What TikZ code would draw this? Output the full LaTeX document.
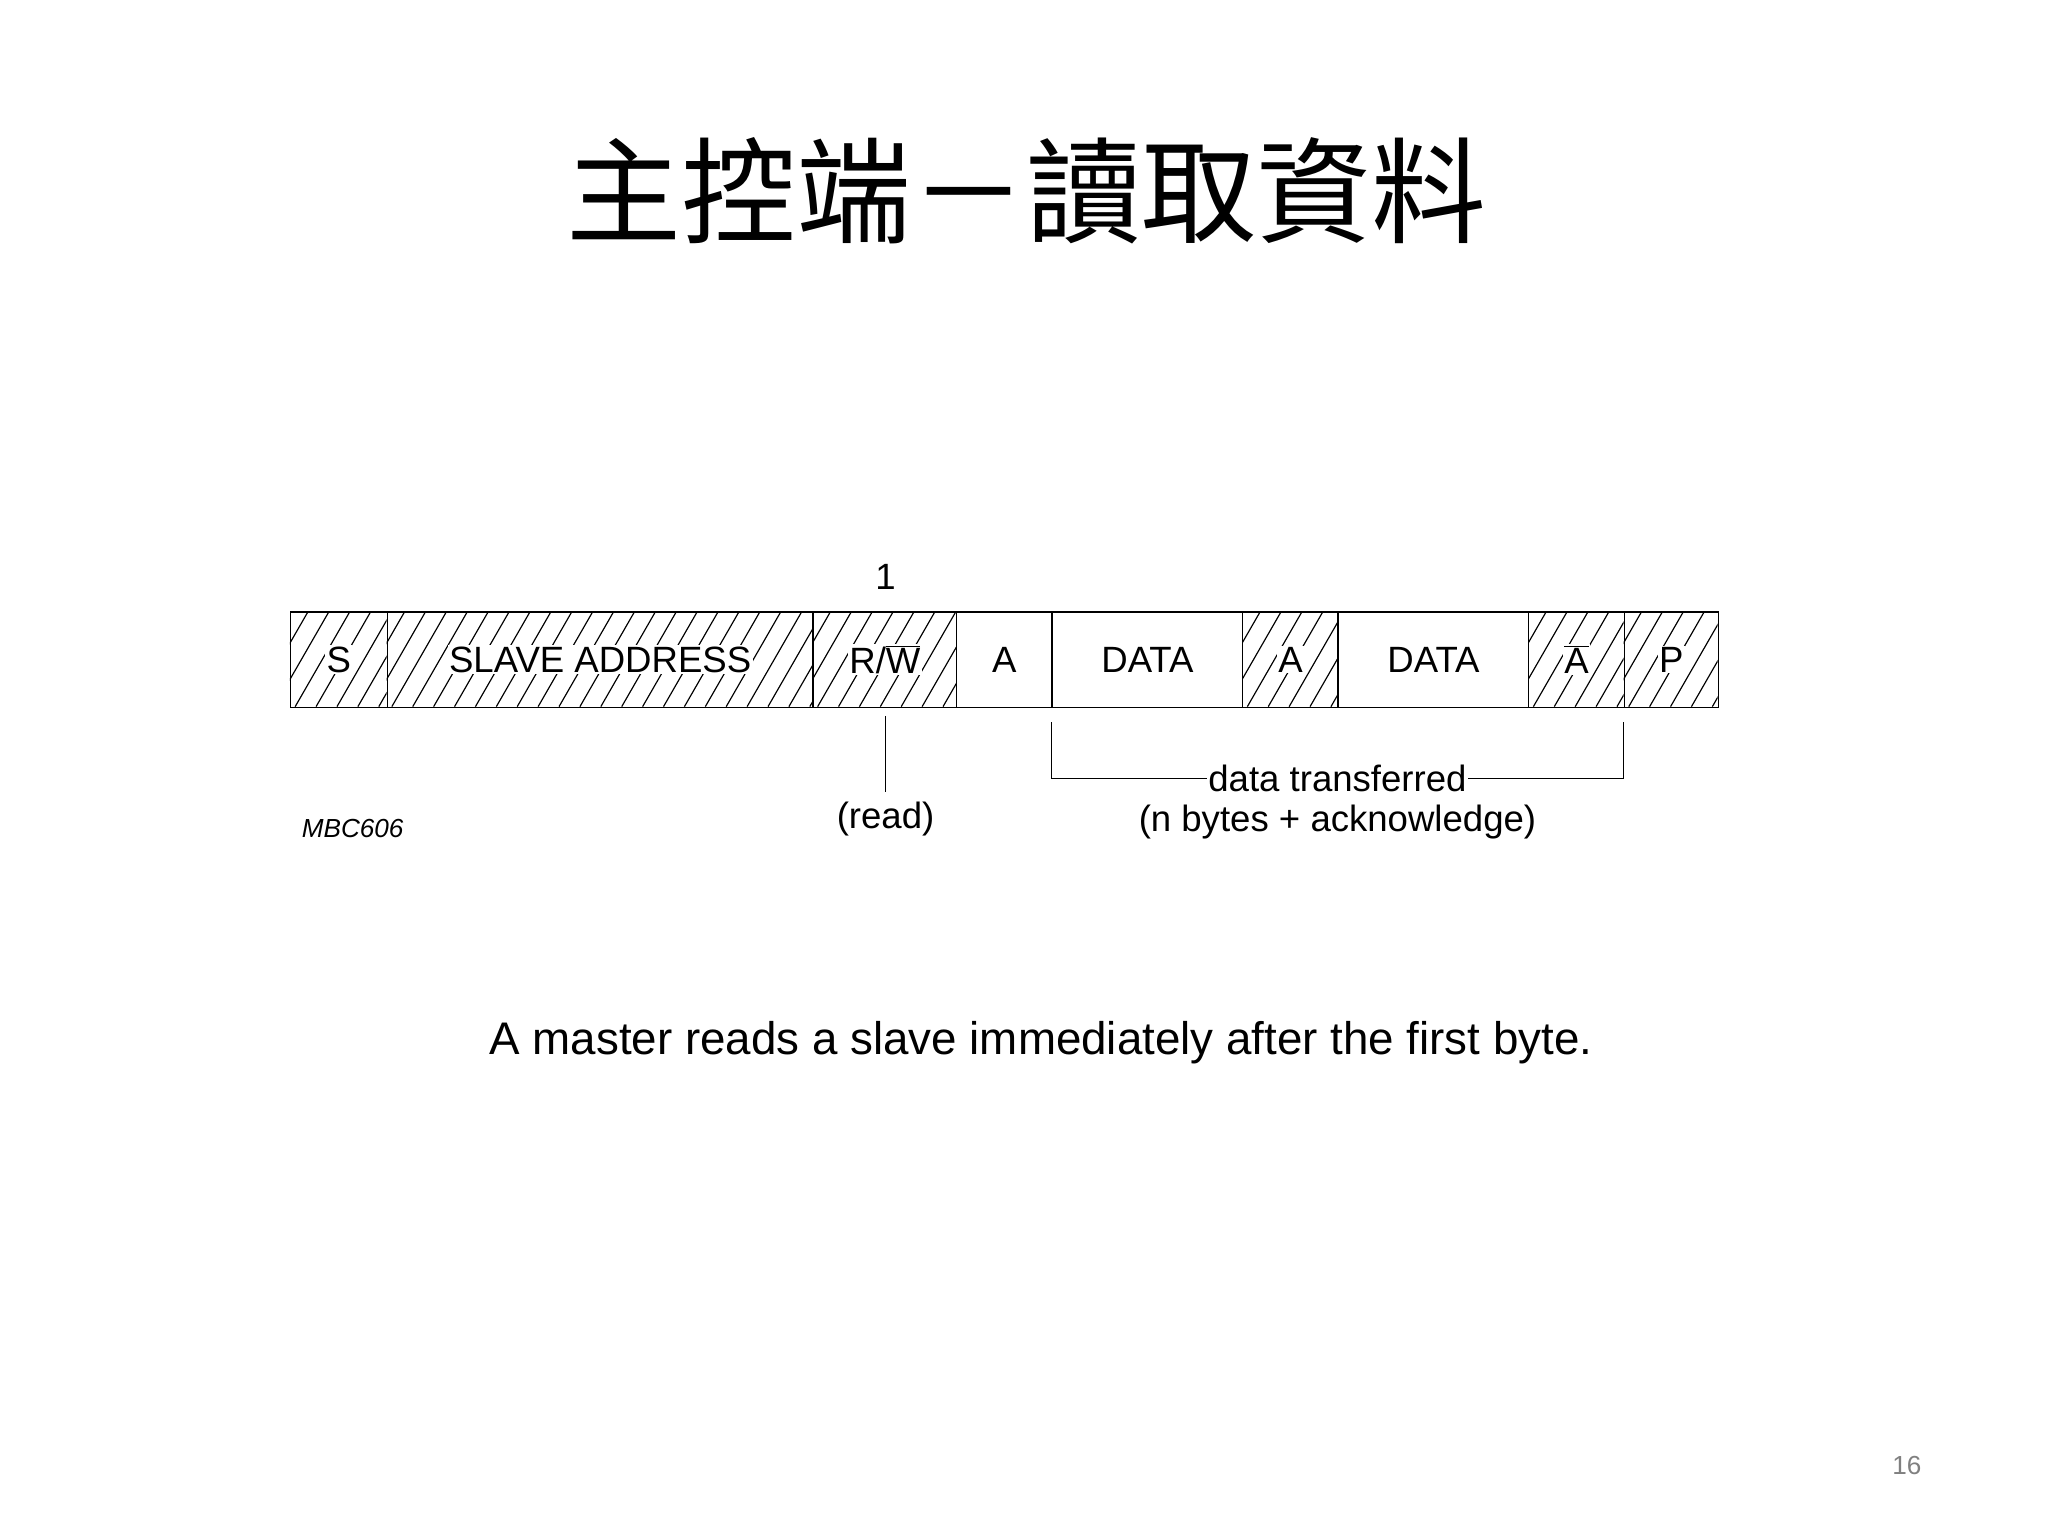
\documentclass[tikz,border=0pt]{standalone}
\usepackage{fontspec}
\setmainfont{Liberation Sans}
\newfontfamily\cjk{Noto Sans CJK TC}
\begin{document}
\begin{tikzpicture}[x=1pt,y=-1pt,
 box/.style={draw,line width=1pt,inner sep=0,anchor=north west,minimum height=73pt},
 lab/.style={inner sep=1pt,font=\fontsize{28}{30}\selectfont},
 hlab/.style={lab,fill=white},
 wire/.style={line width=1pt}]
\useasboundingbox (0,0) rectangle (1568,1176);
\node[font=\cjk\fontsize{88}{90}\selectfont] (title) at (786,146) {主控端－讀取資料};
\foreach \n/\a/\b/\t/\h in {s/222/296/S/1, addr/296/622/SLAVE ADDRESS/1, rw/622/732/{R/$\overline{\hbox{W}}$}/1,
  a1/732/805/A/0, d1/805/951/DATA/0, a2/951/1024/A/1, d2/1024/1170/DATA/0, na/1170/1243/{$\overline{\hbox{A}}$}/1, p/1243/1315/P/1}{
  \ifnum\h=1
    \begin{scope}
      \clip (\a,468) rectangle (\b,541);
      \foreach \i in {-60,-44,...,340} \draw[line width=0.9pt] (\a+\i,541) -- ++(42,-73);
    \end{scope}
    \node[box,minimum width=\b-\a] (\n) at (\a,468) {};
    \node[hlab] (\n l) at (\n.center) {\t};
  \else
    \node[box,minimum width=\b-\a] (\n) at (\a,468) {};
    \node[lab] (\n l) at (\n.center) {\t};
  \fi
}
\node[lab] (one) at (678,442) {1};
\coordinate (rwtop) at (678,548);
\coordinate (rwbot) at (678,606);
\draw[wire] (rwtop) -- (rwbot);
\node[lab] (read) at (678,627) {(read)};
\node[lab] (dt) at (1024,596) {data transferred};
\node[lab] (nb) at (1024,629) {(n bytes + acknowledge)};
\coordinate (bl) at (805,553);
\coordinate (br) at (1243,553);
\draw[wire] (bl) |- (dt.west);
\draw[wire] (br) |- (dt.east);
\node[font=\itshape\fontsize{20}{22}\selectfont] (mbc) at (270,634) {MBC606};
\node[font=\fontsize{35}{38}\selectfont] (sent) at (797,798) {A master reads a slave immediately after the first byte.};
\node[font=\fontsize{20}{22}\selectfont,text=gray] (pg) at (1460,1122) {16};
\end{tikzpicture}
\end{document}
